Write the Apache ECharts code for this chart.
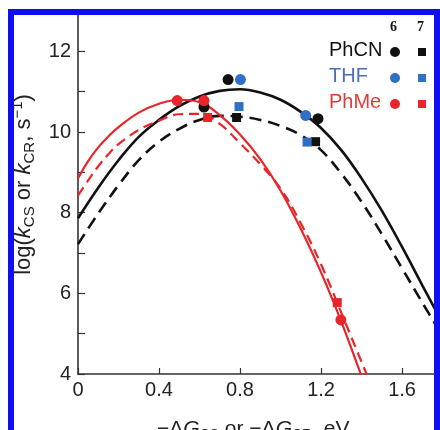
<!DOCTYPE html>
<html>
<head>
<meta charset="utf-8">
<script src="https://cdn.jsdelivr.net/npm/echarts@6/dist/echarts.min.js"></script>
<style>
html,body{margin:0;padding:0;background:#fff;}
#chart{width:440px;height:430px;}
</style>
</head>
<body>
<div id="chart"></div>
<script>
// ---- data ----
const xTicks = [0, 0.4, 0.8, 1.2, 1.6];
const yTicks = [4, 6, 8, 10, 12];

// fitted curves (x positions and log k values)
const blackX      = [0,0.1,0.2,0.3,0.4,0.5,0.6,0.7,0.8,0.9,1.0,1.1,1.2,1.3,1.4,1.5,1.6,1.7,1.78];
const blackSolidY = [7.86,8.62,9.30,9.88,10.30,10.64,10.88,11.02,11.06,10.98,10.80,10.50,10.10,9.55,8.85,8.05,7.15,6.20,5.45];
const blackDashY  = [7.22,7.98,8.68,9.30,9.76,10.08,10.30,10.40,10.38,10.30,10.15,9.92,9.55,8.97,8.27,7.47,6.62,5.77,5.10];

const redSolidX = [0,0.05,0.1,0.15,0.2,0.3,0.4,0.5,0.6,0.7,0.8,0.9,1.0,1.1,1.2,1.3,1.4,1.42];
const redSolidY = [8.85,9.28,9.62,9.89,10.12,10.48,10.70,10.80,10.74,10.42,9.94,9.33,8.55,7.60,6.52,5.30,3.95,3.70];
const redDashX  = [0,0.05,0.1,0.15,0.2,0.3,0.4,0.5,0.6,0.7,0.8,0.9,1.0,1.1,1.2,1.3,1.4,1.45];
const redDashY  = [8.42,8.80,9.15,9.45,9.70,10.05,10.28,10.44,10.45,10.20,9.72,9.20,8.60,7.74,6.72,5.52,4.30,3.70];

// measured points: compound 6 (circles), compound 7 (squares)
const phcn6X = [0.622, 0.741, 1.185];  const phcn6Y = [10.62, 11.30, 10.33];
const thf6X  = [0.802, 1.124];         const thf6Y  = [11.30, 10.41];
const phme6X = [0.490, 0.622, 1.298];  const phme6Y = [10.78, 10.78, 5.34];
const phcn7X = [0.783, 1.173];         const phcn7Y = [10.36, 9.76];
const thf7X  = [0.795, 1.131];         const thf7Y  = [10.63, 9.75];
const phme7X = [0.640, 1.280];         const phme7Y = [10.36, 5.77];

const legendRows = ['PhCN', 'THF', 'PhMe'];
const legendHead = ['6', '7'];

// ---- styling ----
const BLACK = '#111111', BLUE = '#2f6fc4', RED = '#e8262a';
const textColors = ['#111111', '#4a6fb3', '#e23a3a'];
const markColors = [BLACK, BLUE, RED];
const FONT = '"Liberation Sans", Arial, Helvetica, sans-serif';

const zip = (xs, ys) => xs.map((x, i) => [x, ys[i]]);

function lineSeries(name, xs, ys, color, dashed, width) {
  return {
    name, type: 'line', data: zip(xs, ys), smooth: 0.4, showSymbol: false, symbol: 'none',
    clip: true, z: 2,
    lineStyle: { color, width, type: dashed ? dashed : 'solid' }
  };
}
function scatterSeries(name, xs, ys, color, symbol, size) {
  return {
    name, type: 'scatter', data: zip(xs, ys), symbol, symbolSize: size, z: 4,
    itemStyle: { color, opacity: 1 }
  };
}

const chart = echarts.init(document.getElementById('chart'), null, { renderer: 'canvas' });

const richX = {
  i: { fontStyle: 'italic', fontSize: 21, fontFamily: FONT, color: '#222', lineHeight: 26 },
  sub: { fontSize: 14, fontFamily: FONT, color: '#222', verticalAlign: 'bottom', lineHeight: 15 },
  sup: { fontSize: 14, fontFamily: FONT, color: '#222', verticalAlign: 'top', lineHeight: 15 }
};
const richY = {
  i: { fontStyle: 'italic', fontSize: 22, fontFamily: FONT, color: '#222', lineHeight: 27 },
  sub: { fontSize: 15, fontFamily: FONT, color: '#222', verticalAlign: 'bottom', lineHeight: 16 },
  sup: { fontSize: 15, fontFamily: FONT, color: '#222', verticalAlign: 'top', lineHeight: 16 }
};

// legend graphics
const legendGraphics = [];
const headX = [394, 421];
legendHead.forEach((t, i) => legendGraphics.push({
  type: 'text', left: headX[i] - 4, top: 20, z: 10,
  style: { text: t, fontSize: 14, fontWeight: 'bold', fontFamily: '"Liberation Serif", "Times New Roman", serif', fill: '#111' }
}));
const rowY = [52, 78, 104];
legendRows.forEach((t, i) => {
  legendGraphics.push({
    type: 'text', left: 329, top: rowY[i] - 12, z: 10,
    style: { text: t, fontSize: 20, fontFamily: FONT, fill: textColors[i] }
  });
  legendGraphics.push({
    type: 'circle', shape: { cx: 395, cy: rowY[i], r: 5 }, z: 10,
    style: { fill: markColors[i] }
  });
  legendGraphics.push({
    type: 'rect', shape: { x: 418, y: rowY[i] - 4, width: 8, height: 8 }, z: 10,
    style: { fill: markColors[i] }
  });
});

const option = {
  backgroundColor: '#ffffff',
  animation: false,
  grid: { left: 78, top: 11, right: 1.5, bottom: 56, containLabel: false, outerBoundsMode: 'none' },
  xAxis: {
    type: 'value', min: 0, max: 1.78, interval: 0.4,
    axisLine: { show: true, onZero: false, lineStyle: { color: '#333', width: 1.6 } },
    axisTick: { show: true, inside: true, length: 6, lineStyle: { color: '#333', width: 1.2 } },
    axisLabel: {
      fontSize: 20, fontFamily: FONT, color: '#222', margin: 6,
      showMaxLabel: false,
      formatter: v => {
        const k = v / 0.4;
        return Math.abs(k - Math.round(k)) < 1e-6 ? String(xTicks[Math.round(k)]) : '';
      }
    },
    splitLine: { show: false },
    name: '−Δ{i|G}{sub|CS} or −Δ{i|G}{sub|CR}, eV',
    nameLocation: 'middle', nameGap: 42,
    nameTextStyle: { fontSize: 21, fontFamily: FONT, color: '#222', padding: [0, 10, 0, 0], rich: richX }
  },
  yAxis: {
    type: 'value', min: 4, max: 13, interval: 1,
    axisLine: { show: true, onZero: false, lineStyle: { color: '#333', width: 1.6 } },
    axisTick: { show: true, inside: true, length: 7, lineStyle: { color: '#333', width: 1.2 } },
    axisLabel: {
      fontSize: 20, fontFamily: FONT, color: '#222', margin: 7,
      formatter: v => (yTicks.indexOf(v) >= 0 ? String(v) : '')
    },
    splitLine: { show: false },
    name: 'log({i|k}{sub|CS} or {i|k}{sub|CR}, s{sup|−1})',
    nameLocation: 'middle', nameGap: 40, nameRotate: 90,
    nameTextStyle: { fontSize: 22, fontFamily: FONT, color: '#222', padding: [0, 0, 0, 16], rich: richY }
  },
  series: [
    lineSeries('6 fit', blackX, blackSolidY, BLACK, 'solid', 2.6),
    lineSeries('7 fit', blackX, blackDashY, BLACK, [12, 7], 2.6),
    lineSeries('PhMe 6 fit', redSolidX, redSolidY, RED, 'solid', 2.2),
    lineSeries('PhMe 7 fit', redDashX, redDashY, RED, [10, 6], 2.2),
    scatterSeries('PhCN 6', phcn6X, phcn6Y, BLACK, 'circle', 11),
    scatterSeries('THF 6', thf6X, thf6Y, BLUE, 'circle', 11),
    scatterSeries('PhMe 6', phme6X, phme6Y, RED, 'circle', 11),
    scatterSeries('PhCN 7', phcn7X, phcn7Y, BLACK, 'rect', 9),
    scatterSeries('THF 7', thf7X, thf7Y, BLUE, 'rect', 9),
    scatterSeries('PhMe 7', phme7X, phme7Y, RED, 'rect', 9)
  ],
  graphic: legendGraphics.concat([
    {
      type: 'rect', z: 100, silent: true,
      shape: { x: 11, y: 12, width: 426, height: 440 },
      style: { fill: 'none', stroke: '#0f0ff2', lineWidth: 6 }
    }
  ])
};
chart.setOption(option);
</script>
</body>
</html>
